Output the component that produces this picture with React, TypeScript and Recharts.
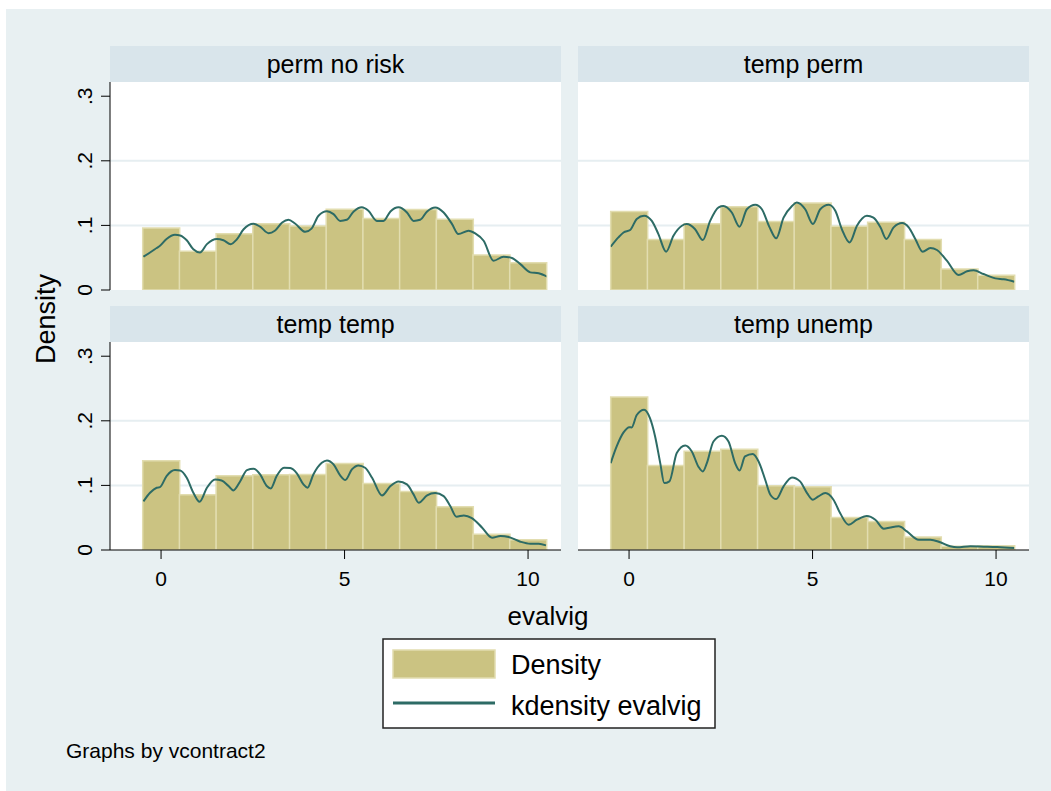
import React from "react";
import { ComposedChart, Bar, Line, XAxis, YAxis, CartesianGrid } from "recharts";

const FONT = '"Liberation Sans", Arial, Helvetica, sans-serif';
const BG = "#e8f0f2";
const HEADER = "#d9e5eb";
const GRID = "#e6eef1";
const BAR_FILL = "#cbc382";
const BAR_EDGE = "#e2ddb0";
const LINE = "#2d6b65";

// histogram bins (evalvig 0..10)
const bins = [0, 1, 2, 3, 4, 5, 6, 7, 8, 9, 10];
const panelTitles = ["perm no risk", "temp perm", "temp temp", "temp unemp"];

const histPermNoRisk = [0.096, 0.06, 0.087, 0.1025, 0.099, 0.125, 0.1105, 0.1245, 0.1095, 0.054, 0.042];
const histTempPerm = [0.1215, 0.078, 0.1025, 0.129, 0.106, 0.1345, 0.0985, 0.105, 0.078, 0.0325, 0.023];
const histTempTemp = [0.138, 0.0855, 0.115, 0.1165, 0.117, 0.134, 0.103, 0.0905, 0.067, 0.0245, 0.016];
const histTempUnemp = [0.237, 0.131, 0.153, 0.156, 0.0995, 0.098, 0.0505, 0.044, 0.02, 0.0057, 0.0067];

// kdensity evalvig, [x, density]
const kdePermNoRisk: [number, number][] = [
  [-0.48, 0.0515], [-0.3, 0.058], [-0.12, 0.065], [-0.03, 0.0685], [0.15, 0.079], [0.38, 0.0855],
  [0.52, 0.0845], [0.7, 0.077], [0.88, 0.063], [1.06, 0.058], [1.25, 0.071], [1.52, 0.079],
  [1.7, 0.077], [1.9, 0.071], [2.06, 0.078], [2.25, 0.094], [2.52, 0.1025], [2.7, 0.098],
  [2.93, 0.088], [3.1, 0.0917], [3.3, 0.1045], [3.47, 0.1087], [3.65, 0.103], [3.93, 0.09],
  [4.1, 0.095], [4.29, 0.115], [4.52, 0.122], [4.7, 0.1175], [4.88, 0.107], [5.06, 0.1087],
  [5.25, 0.1216], [5.47, 0.128], [5.65, 0.1226], [5.88, 0.107], [6.06, 0.107], [6.25, 0.1216],
  [6.47, 0.128], [6.7, 0.12], [6.88, 0.107], [7.06, 0.1087], [7.25, 0.1216], [7.47, 0.1278],
  [7.7, 0.12], [7.93, 0.102], [8.1, 0.0866], [8.38, 0.0917], [8.56, 0.0876], [8.79, 0.0762],
  [9.06, 0.0453], [9.33, 0.0515], [9.56, 0.0495], [9.79, 0.04], [10.06, 0.0273], [10.29, 0.0258],
  [10.52, 0.0206],
];
const kdeTempPerm: [number, number][] = [
  [-0.5, 0.067], [-0.29, 0.0814], [-0.15, 0.089], [0.03, 0.0928], [0.21, 0.11], [0.41, 0.115],
  [0.62, 0.107], [0.8, 0.0866], [1.01, 0.0593], [1.21, 0.084], [1.44, 0.0995], [1.57, 0.102],
  [1.8, 0.094], [2.01, 0.0773], [2.21, 0.107], [2.44, 0.128], [2.57, 0.13], [2.8, 0.12],
  [3.01, 0.098], [3.21, 0.125], [3.44, 0.132], [3.62, 0.125], [3.83, 0.097], [4.01, 0.08],
  [4.21, 0.112], [4.44, 0.13], [4.57, 0.1356], [4.8, 0.125], [5.01, 0.102], [5.21, 0.125],
  [5.44, 0.132], [5.62, 0.1227], [5.8, 0.094], [6.01, 0.0737], [6.21, 0.0995], [6.48, 0.115],
  [6.66, 0.112], [6.85, 0.097], [7.01, 0.079], [7.21, 0.097], [7.44, 0.1036], [7.62, 0.097],
  [7.8, 0.079], [8.0, 0.0593], [8.21, 0.065], [8.39, 0.0619], [8.66, 0.0454], [8.98, 0.0232],
  [9.21, 0.0289], [9.39, 0.0304], [9.66, 0.0247], [9.98, 0.018], [10.21, 0.0165], [10.5, 0.0129],
];
const kdeTempTemp: [number, number][] = [
  [-0.48, 0.0753], [-0.3, 0.0887], [-0.12, 0.0964], [-0.03, 0.0974], [0.15, 0.1144], [0.38, 0.1237],
  [0.52, 0.1232], [0.7, 0.1119], [0.88, 0.0887], [1.05, 0.0747], [1.25, 0.0964], [1.47, 0.1093],
  [1.65, 0.1077], [1.84, 0.099], [1.97, 0.0923], [2.15, 0.1057], [2.34, 0.1237], [2.52, 0.1258],
  [2.7, 0.117], [2.88, 0.099], [2.99, 0.0954], [3.15, 0.1144], [3.35, 0.1273], [3.52, 0.1268],
  [3.7, 0.1186], [3.88, 0.1015], [3.99, 0.0964], [4.15, 0.117], [4.38, 0.135], [4.52, 0.1387],
  [4.7, 0.1325], [4.88, 0.1155], [5.02, 0.1082], [5.2, 0.1247], [5.38, 0.131], [5.56, 0.1273],
  [5.75, 0.1119], [6.02, 0.0845], [6.25, 0.099], [6.47, 0.1062], [6.7, 0.1015], [6.88, 0.0861],
  [7.02, 0.0732], [7.25, 0.0845], [7.47, 0.0881], [7.7, 0.0835], [7.88, 0.068], [8.05, 0.0515],
  [8.25, 0.0536], [8.47, 0.0495], [8.75, 0.0345], [9.02, 0.0191], [9.25, 0.0216], [9.47, 0.0201],
  [9.79, 0.0129], [10.06, 0.0098], [10.29, 0.0098], [10.49, 0.0072],
];
const kdeTempUnemp: [number, number][] = [
  [-0.5, 0.1345], [-0.34, 0.16], [-0.15, 0.182], [0.01, 0.19], [0.07, 0.1897], [0.21, 0.209],
  [0.41, 0.217], [0.57, 0.204], [0.71, 0.1758], [0.85, 0.1345], [0.96, 0.1036], [1.1, 0.1062],
  [1.3, 0.15], [1.53, 0.1619], [1.71, 0.1526], [1.89, 0.129], [2.01, 0.1216], [2.12, 0.1345],
  [2.3, 0.168], [2.53, 0.1768], [2.71, 0.168], [2.89, 0.1345], [3.01, 0.1232], [3.16, 0.1448],
  [3.37, 0.1485], [3.53, 0.137], [3.71, 0.1088], [3.85, 0.0856], [4.01, 0.0789], [4.21, 0.0985],
  [4.44, 0.1124], [4.66, 0.1062], [4.85, 0.0881], [5.01, 0.0778], [5.16, 0.083], [5.35, 0.0881],
  [5.57, 0.0778], [5.75, 0.0572], [5.98, 0.0392], [6.21, 0.0469], [6.48, 0.0526], [6.71, 0.0469],
  [6.94, 0.033], [7.12, 0.035], [7.35, 0.0366], [7.57, 0.0289], [7.89, 0.016], [8.21, 0.016],
  [8.48, 0.0119], [8.75, 0.0057], [8.94, 0.0041], [9.3, 0.0057], [9.66, 0.0052], [10.03, 0.0046],
  [10.5, 0.0031],
];

const yTicks = [0, 0.1, 0.2, 0.3];
const yTickLabels = ["0", ".1", ".2", ".3"];
const xTicks = [0, 5, 10];
const gridValues = [0.1, 0.2];
const legendLabels = ["Density", "kdensity evalvig"];

const PLOT_W = 451;
const PLOT_H = 208;
const Y_AXIS_W = 70;
const X_AXIS_H = 50;
const EDGE = 14; // room so edge tick labels are not clipped
const PAD = { left: 32.7, right: 14.6 };

const YTick = (props: any) => {
  const { x, y, payload } = props;
  const bx = x - 7;
  return (
    <text x={bx} y={y} transform={`rotate(-90 ${bx} ${y})`} textAnchor="middle"
      fontSize={21} fontFamily={FONT} fill="#000">
      {yTickLabels[yTicks.indexOf(payload.value)]}
    </text>
  );
};

const XTick = (props: any) => {
  const { x, y, payload } = props;
  return (
    <text x={x} y={y + 25} textAnchor="middle" fontSize={21} fontFamily={FONT} fill="#000">
      {payload.value}
    </text>
  );
};

function Panel({ title, hist, kde, left, top, showY, showX }: {
  title: string; hist: number[]; kde: [number, number][];
  left: number; top: number; showY: boolean; showX: boolean;
}) {
  const data = bins.map((b, i) => ({ bin: b, x: b, density: hist[i] }));
  const line = kde.map(([x, y]) => ({ x, y }));
  const yW = showY ? Y_AXIS_W : 0;
  const bottom = showX ? 0 : EDGE;
  return (
    <div style={{ position: "absolute", left: left - yW, top: top - EDGE }}>
      <div style={{
        position: "absolute", left: yW, top: EDGE - 36, width: PLOT_W, height: 36, background: HEADER,
        fontFamily: FONT, fontSize: 25, lineHeight: "36px", textAlign: "center", color: "#000",
      }}>{title}</div>
      <ComposedChart width={PLOT_W + yW} height={EDGE + PLOT_H + (showX ? X_AXIS_H : 0) + bottom} data={data}
        margin={{ top: EDGE, right: 0, bottom, left: 0 }} barCategoryGap={0} barGap={0}>
        <CartesianGrid xAxisId="x" vertical={false} horizontalValues={gridValues} stroke={GRID}
          strokeWidth={2} fill="#ffffff" />
        <XAxis xAxisId="bin" dataKey="bin" type="category" orientation="top" hide padding={PAD} />
        <XAxis xAxisId="x" dataKey="x" type="number" domain={[-0.5, 10.5]} ticks={xTicks} interval={0}
          allowDataOverflow hide={!showX} padding={PAD} height={X_AXIS_H} tickSize={9}
          axisLine={{ stroke: "#000" }} tickLine={{ stroke: "#000" }} tick={<XTick />} />
        <YAxis domain={[0, 0.322]} ticks={yTicks} interval={0} allowDataOverflow hide={!showY}
          width={Y_AXIS_W} tickSize={9} axisLine={{ stroke: "#000" }} tickLine={{ stroke: "#000" }}
          tick={<YTick />} />
        <Bar xAxisId="bin" dataKey="density" fill={BAR_FILL} stroke={BAR_EDGE} strokeWidth={1.5}
          isAnimationActive={false} />
        <Line xAxisId="x" data={line} dataKey="y" type="monotone" dot={false} activeDot={false}
          stroke={LINE} strokeWidth={2} isAnimationActive={false} />
      </ComposedChart>
    </div>
  );
}

export default function App() {
  return (
    <div style={{ position: "absolute", left: 0, top: 0, width: 1051, height: 791, background: "#fff", overflow: "hidden" }}>
      <div style={{ position: "absolute", left: 6, top: 9, right: 0, bottom: 0, background: BG }} />
      <Panel title={panelTitles[0]} hist={histPermNoRisk} kde={kdePermNoRisk} left={110} top={82} showY showX={false} />
      <Panel title={panelTitles[1]} hist={histTempPerm} kde={kdeTempPerm} left={578} top={82} showY={false} showX={false} />
      <Panel title={panelTitles[2]} hist={histTempTemp} kde={kdeTempTemp} left={110} top={342} showY showX />
      <Panel title={panelTitles[3]} hist={histTempUnemp} kde={kdeTempUnemp} left={578} top={342} showY={false} showX />
      <svg width={1051} height={791} style={{ position: "absolute", left: 0, top: 0, pointerEvents: "none" }}>
        <text x={55} y={319} transform="rotate(-90 55 319)" textAnchor="middle" fontSize={27} fontFamily={FONT} fill="#000">Density</text>
        <text x={548} y={625} textAnchor="middle" fontSize={26} fontFamily={FONT} fill="#000">evalvig</text>
        <rect x={383} y={639} width={332} height={89} fill="#fff" stroke="#222" strokeWidth={1.5} />
        <rect x={393} y={650} width={102} height={28} fill={BAR_FILL} stroke={BAR_EDGE} strokeWidth={1.5} />
        <text x={511} y={674} fontSize={27} fontFamily={FONT} fill="#000">{legendLabels[0]}</text>
        <line x1={393} x2={495} y1={703} y2={703} stroke={LINE} strokeWidth={3} />
        <text x={511} y={715} fontSize={27} fontFamily={FONT} fill="#000">{legendLabels[1]}</text>
        <text x={66} y={758} fontSize={21} fontFamily={FONT} fill="#000">Graphs by vcontract2</text>
      </svg>
    </div>
  );
}
